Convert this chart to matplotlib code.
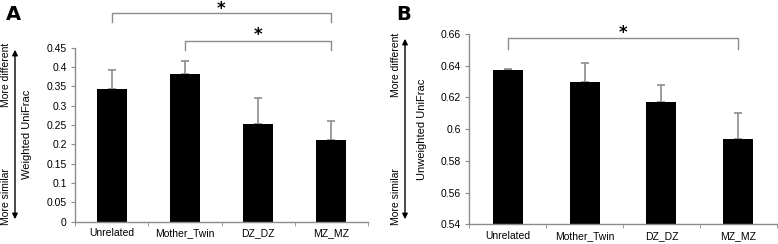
import matplotlib
matplotlib.use('Agg')
import matplotlib.pyplot as plt
import numpy as np

# data
groups = ['Unrelated', 'Mother_Twin', 'DZ_DZ', 'MZ_MZ']
weighted = [0.343, 0.383, 0.252, 0.211]
weighted_err = [0.050, 0.032, 0.068, 0.050]
unweighted = [0.637, 0.630, 0.617, 0.594]
unweighted_err = [0.001, 0.012, 0.011, 0.016]

plt.rcParams['font.family'] = ['Liberation Sans', 'DejaVu Sans']

fig = plt.figure(figsize=(7.78, 2.44), dpi=100)
axA = fig.add_axes([75 / 778, 1 - 221.5 / 244, 293 / 778, 173.8 / 244])
axB = fig.add_axes([469.3 / 778, 1 - 224.3 / 244, 307.4 / 778, 190.3 / 244])

grey = '#8c8c8c'


def style_axis(ax, vals, errs, width, ylim, step, ylabel, label_x, xpad):
    x = np.arange(len(groups))
    ax.bar(x, np.array(vals) - ylim[0], width, bottom=ylim[0], color='black', zorder=2)
    ax.errorbar(x, vals, yerr=[np.zeros(len(errs)), errs], fmt='none',
                ecolor=grey, elinewidth=1.2, capsize=3, capthick=1.2, zorder=1)
    ax.set_xlim(-0.5, len(groups) - 0.5)
    ax.set_ylim(*ylim)
    ticks = np.round(np.arange(ylim[0], ylim[1] + step / 2, step), 4)
    ax.set_yticks(ticks)
    ax.set_yticklabels([f'{t:g}' for t in ticks])
    ax.set_xticks(x)
    ax.set_xticklabels(groups)
    ax.set_xticks(np.arange(-0.5, len(groups)), minor=True)
    ax.tick_params(axis='x', which='major', length=0, pad=xpad, labelsize=7.5)
    ax.tick_params(axis='x', which='minor', length=3, color=grey, direction='out')
    ax.tick_params(axis='y', length=3, color=grey, labelsize=7.5, pad=3)
    for s in ['top', 'right']:
        ax.spines[s].set_visible(False)
    for s in ['left', 'bottom']:
        ax.spines[s].set_color(grey)
        ax.spines[s].set_linewidth(1.0)
    ax.set_ylabel(ylabel, fontsize=8)
    ax.yaxis.set_label_coords(label_x, 0.5)


style_axis(axA, weighted, weighted_err, 0.41, (0, 0.45), 0.05, 'Weighted UniFrac', -43 / 293, 5)
style_axis(axB, unweighted, unweighted_err, 0.39, (0.54, 0.66), 0.02, 'Unweighted UniFrac', -42 / 307.4, 5)


def bracket(ax, x0, x1, y, tip, star_y):
    tr = ax.get_xaxis_transform()
    ax.plot([x0, x0, x1, x1], [tip, y, y, tip], color=grey, lw=1.0,
            transform=tr, clip_on=False)
    ax.text((x0 + x1) / 2, star_y, '*', transform=tr, ha='center', va='center',
            fontsize=12, fontweight='bold', family='DejaVu Sans')


bracket(axA, 0, 3, 1.198, 1.150, 1.225)
bracket(axA, 1, 3, 1.040, 0.987, 1.072)
bracket(axB, 0, 3, 0.977, 0.920, 1.005)

# panel letters
fig.text(6 / 778, 1 - 15 / 244, 'A', fontsize=14, fontweight='bold', va='center', family='DejaVu Sans')
fig.text(396 / 778, 1 - 15 / 244, 'B', fontsize=14, fontweight='bold', va='center', family='DejaVu Sans')

# direction arrows at the side
for xa, ytop, ydiff in [(15, 47, 75), (405, 36, 65)]:
    fig.patches.append(matplotlib.patches.FancyArrowPatch(
        (xa / 778, 1 - ytop / 244), (xa / 778, 1 - 222 / 244),
        arrowstyle='<|-|>', mutation_scale=8, color='black', lw=1.0,
        transform=fig.transFigure))
    fig.text((xa - 9) / 778, 1 - ydiff / 244, 'More different', rotation=90,
             fontsize=7.5, ha='center', va='center')
    fig.text((xa - 9) / 778, 1 - 197 / 244, 'More similar', rotation=90,
             fontsize=7.5, ha='center', va='center')

fig.savefig('out.png', dpi=100)
